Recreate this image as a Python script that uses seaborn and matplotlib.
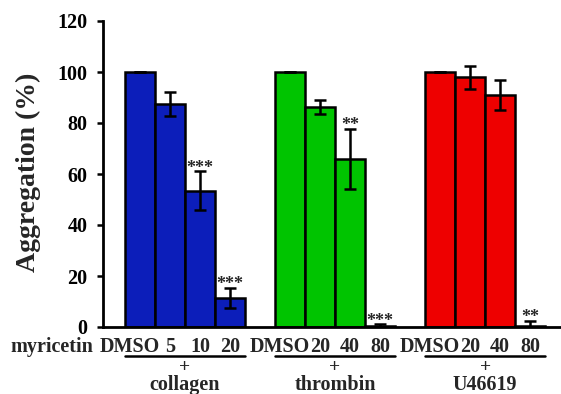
import numpy as np
import pandas as pd
import matplotlib
matplotlib.use("Agg")
import matplotlib.pyplot as plt
import seaborn as sns
from matplotlib.transforms import blended_transform_factory

sns.set_theme(style="ticks")
plt.rcParams['font.family'] = ['Liberation Serif', 'DejaVu Serif']
plt.rcParams['font.weight'] = 'bold'

# ---- data ----
groups = ["collagen", "thrombin", "U46619"]
dose_labels = [["DMSO", "5", "10", "20"],
               ["DMSO", "20", "40", "80"],
               ["DMSO", "20", "40", "80"]]
collagen_vals = [100, 87.5, 53.5, 11.4]
collagen_err = [0, 4.8, 7.5, 4.0]
thrombin_vals = [100, 86.4, 65.9, 0.5]
thrombin_err = [0, 2.8, 11.8, 0.5]
u46619_vals = [100, 98.0, 91.0, 0.5]
u46619_err = [0, 4.5, 6.0, 2.0]
stars = [["", "", "***", "***"],
         ["", "", "**", "***"],
         ["", "", "", "**"]]
colors = {"collagen": "#0C1EBA", "thrombin": "#00C400", "U46619": "#EE0000"}
yticks = [0, 20, 40, 60, 80, 100, 120]

vals = [collagen_vals, thrombin_vals, u46619_vals]
errs = [collagen_err, thrombin_err, u46619_err]

rows = []
for gi, g in enumerate(groups):
    for di in range(4):
        rows.append(dict(pos=gi * 5 + di, group=g, value=vals[gi][di],
                         err=errs[gi][di], label=dose_labels[gi][di],
                         star=stars[gi][di]))
df = pd.DataFrame(rows)

fig = plt.figure(figsize=(5.61, 3.94), dpi=100)
ax = fig.add_axes([103 / 561, 1 - 327 / 394, 458 / 561, 306 / 394])

sns.barplot(data=df, x="pos", y="value", hue="group", palette=colors,
            native_scale=True, dodge=False, width=1.0, errorbar=None,
            saturation=1, edgecolor="black", linewidth=1.8, legend=False,
            ax=ax, zorder=2)

ax.errorbar(df["pos"], df["value"], yerr=df["err"], fmt="none",
            ecolor="black", elinewidth=1.8, capsize=4, capthick=1.8, zorder=3)

ax.set_xlim(-1.23, 14.03)
ax.set_ylim(0, 120)
ax.set_yticks(yticks)
ax.set_yticklabels([str(t) for t in yticks], fontsize=14.5, fontweight="bold")
ax.set_xticks([])
ax.set_xlabel("")
ax.set_ylabel("Aggregation (%)", fontsize=20, fontweight="bold")
ax.yaxis.set_label_coords(-0.135, 0.505)
ax.tick_params(axis="y", direction="out", length=4, width=1.8, pad=7, colors="black")
for s in ["top", "right"]:
    ax.spines[s].set_visible(False)
for s in ["left", "bottom"]:
    ax.spines[s].set_linewidth(2)
    ax.spines[s].set_color("black")

# stars
for _, r in df.iterrows():
    if r["star"]:
        ax.text(r["pos"], r["value"] + r["err"] - 2.0, r["star"], ha="center",
                va="bottom", fontsize=13, fontweight="bold")

trans = blended_transform_factory(ax.transData, ax.transAxes)
# dose labels
for _, r in df.iterrows():
    x = r["pos"] - (0.33 if r["label"] == "DMSO" else 0)
    ax.text(x, -0.064, r["label"], transform=trans, ha="center", va="center",
            fontsize=14.5, fontweight="bold", clip_on=False)
ax.text(-1.57, -0.066, "myricetin", transform=trans, ha="right", va="center",
        fontsize=14.5, fontweight="bold", clip_on=False)

# group underlines and labels
for gi, g in enumerate(groups):
    x0 = gi * 5 - 0.5
    x1 = gi * 5 + 3.5
    ax.plot([x0, x1], [-0.094, -0.094], transform=trans, color="black",
            lw=1.8, clip_on=False)
    xc = (x0 + x1) / 2
    ax.text(xc, -0.132, "+", transform=trans, ha="center", va="center",
            fontsize=14, fontweight="bold", clip_on=False)
    ax.text(xc, -0.158, g, transform=trans, ha="center", va="top",
            fontsize=14.5, fontweight="bold", clip_on=False)

fig.savefig("out.png", dpi=100)
